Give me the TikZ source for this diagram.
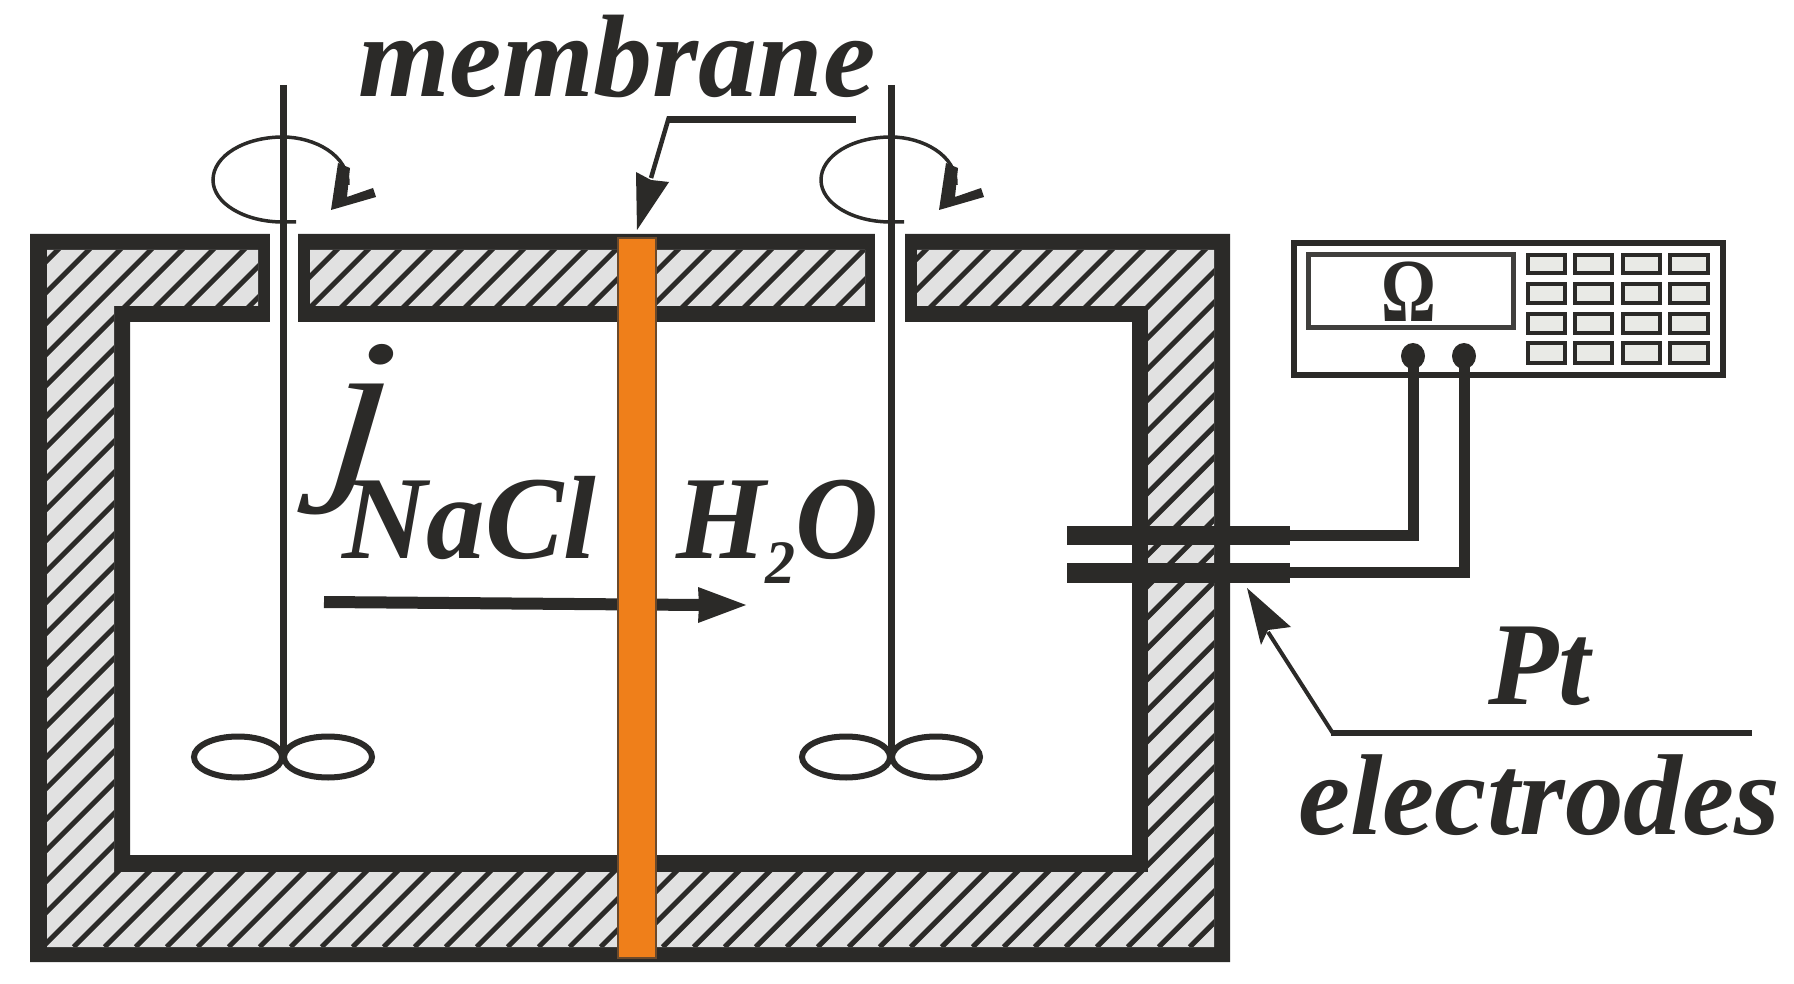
\documentclass[tikz,border=0pt]{standalone}
\usepackage{fontspec}
\setmainfont{Liberation Serif}
\definecolor{ink}{HTML}{2B2A28}
\definecolor{wallgray}{HTML}{E1E1E1}
\definecolor{keygray}{HTML}{E9EAE6}
\definecolor{membraneorange}{HTML}{EF7F1A}
\definecolor{membranebrown}{HTML}{6B4A2C}
\tikzset{
  label/.style={anchor=base west,inner sep=0pt,text=ink,font=\fontsize{115}{120}\selectfont\bfseries\itshape},
  key/.style={draw=ink,fill=keygray,line width=4pt},
  paddle/.style={draw=ink,line width=6pt},
  wire/.style={draw=ink,line width=11pt,line join=miter},
  electrode/.style={fill=ink},
}
\begin{document}
\begin{tikzpicture}[x=1pt,y=-1pt]
\useasboundingbox (0,0) rectangle (1794,984);
% walls
\fill[ink,even odd rule] (30,234) rectangle (1230,962) (130,322) rectangle (1132,855);
\def\hatchregion{(47,250) -- (258,250) -- (258,306) -- (114,306) -- (114,872) -- (1148,872) -- (1148,306) -- (917,306) -- (917,250) -- (1214,250) -- (1214,947) -- (47,947) -- cycle
  (310,250) -- (865,250) -- (865,306) -- (310,306) -- cycle}
\fill[wallgray] \hatchregion;
\begin{scope}
  \clip \hatchregion;
  \foreach \k in {-36,...,45}{
    \draw[ink,line width=5pt] ({73.7+31*\k},947) -- ({73.7+31*\k+800},{947-800});
  }
\end{scope}
\fill[white] (270,225) rectangle (298,330);
\fill[white] (875,225) rectangle (905,330);
% stirrers
\foreach \s in {0,608}{
\begin{scope}[xshift=\s pt]
  \draw[ink,line width=7pt] (283,85) -- (283,757);
  \draw[paddle] (238,757) ellipse [x radius=44,y radius=20.5];
  \draw[paddle] (328,757) ellipse [x radius=44,y radius=20.5];
  \draw[ink,line width=3.5pt] (296,222) -- (283,222) .. controls (244,222) and (213,203) .. (213,180) .. controls (213,156) and (244,137) .. (283,137) .. controls (314,137) and (349,155) .. (348,185);
  \fill[ink] (338,163) -- (331,210) -- (376,197) -- (373,188) -- (347,197) -- (350,168) -- cycle;
\end{scope}
}
% flux arrow
\coordinate (fluxstart) at (324,602);
\coordinate (fluxend) at (700,605);
\draw[ink,line width=12pt] (fluxstart) -- (fluxend);
\fill[ink] (746,605) -- (698,587) -- (699,605) -- (698,623) -- cycle;
% membrane
\draw[fill=membraneorange,draw=membranebrown,line width=2pt] (618,238) rectangle (656,958);
% membrane leader
\coordinate (mlabel) at (856,120);
\coordinate (mbend) at (667,120);
\coordinate (mneck) at (651,178);
\draw[ink,line width=7pt] (mlabel) -- (mbend);
\draw[ink,line width=4.5pt] (669,117) -- (mneck);
\fill[ink] (637,230) -- (636,172) -- (651,180) -- (669,182) -- cycle;
% meter
\draw[draw=ink,line width=6pt,fill=white] (1294,243) rectangle (1723,375);
\draw[draw=ink!90,line width=5pt,fill=white] (1308,255) rectangle (1513,328);
\node[anchor=base,inner sep=0pt,text=ink,xscale=.76,font=\fontsize{90}{90}\selectfont\bfseries] (ohm) at (1409,322) {Ω};
\foreach \xa/\xb in {1528/1565,1575/1612,1623/1660,1670/1708}{
  \foreach \ya/\yb in {255/273,284/303,314/333,343/363}{
    \draw[key] (\xa,\ya) rectangle (\xb,\yb);
  }
}
% wires
\coordinate (ta) at (1413,356);
\coordinate (tb) at (1464,356);
\fill[ink] (ta) ellipse [x radius=12,y radius=13];
\fill[ink] (tb) ellipse [x radius=12,y radius=13];
\coordinate (ea) at (1290,535);
\coordinate (eb) at (1290,572);
\draw[wire] (ta) |- (ea);
\draw[wire] (tb) |- (eb);
\fill[electrode] (1067,526) rectangle (1290,545);
\fill[electrode] (1067,563) rectangle (1290,583);
% electrode leader
\coordinate (lend) at (1752,733);
\coordinate (lbend) at (1331,733);
\coordinate (lneck) at (1268,632);
\draw[ink,line width=6pt] (lend) -- (lbend);
\draw[ink,line width=4pt] (1334,735) -- (lneck);
\fill[ink] (1247,588) -- (1291,627) -- (1268,630) -- (1261,645) -- cycle;
% labels
\node[label,xscale=1.025,yscale=1.02] (mem) at (358,97) {membrane};
\node[anchor=base west,inner sep=0pt,text=ink,xscale=1.18,xslant=.07,font=\fontsize{195}{195}\selectfont\itshape] (j) at (325,473) {j};
\node[label,xscale=1.02,yscale=1.03] (nacl) at (342,558) {NaCl};
\node[label,yscale=1.03] (water) at (676,558) {H\raisebox{-25pt}{\fontsize{60}{60}\selectfont 2}O};
\node[label,yscale=1.03] (pt) at (1488,704) {Pt};
\node[label,xscale=1.02,yscale=1.0] (elec) at (1298,834) {electrodes};
\end{tikzpicture}
\end{document}
